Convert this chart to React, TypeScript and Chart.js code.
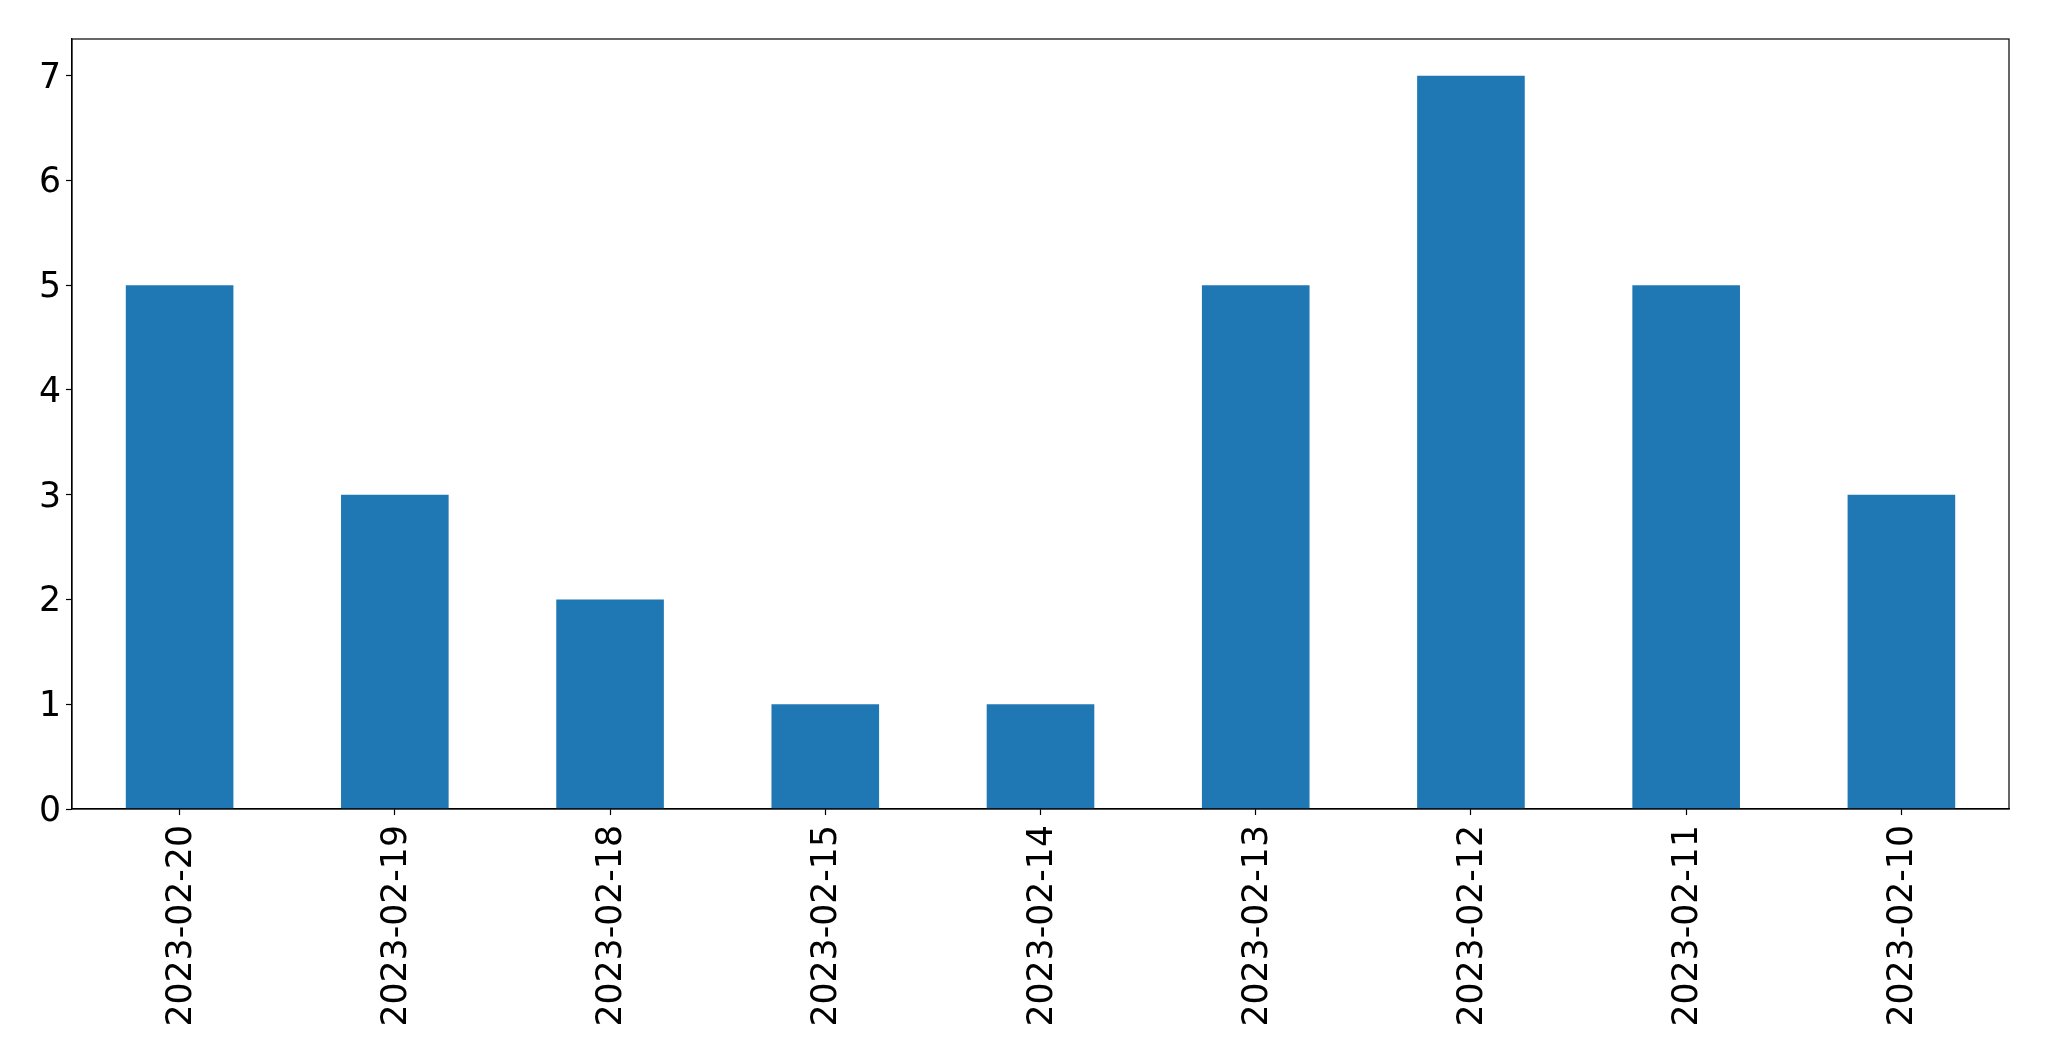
import React, { useEffect, useRef } from "react";
import { Chart, registerables } from "chart.js";

Chart.register(...registerables);

const categories = [
  "2023-02-20",
  "2023-02-19",
  "2023-02-18",
  "2023-02-15",
  "2023-02-14",
  "2023-02-13",
  "2023-02-12",
  "2023-02-11",
  "2023-02-10",
];
const counts = [5, 3, 2, 1, 1, 5, 7, 5, 3];
const yTicks = [0, 1, 2, 3, 4, 5, 6, 7];

const W = 2049;
const H = 1061;

const framePlugin = {
  id: "frame",
  afterDraw(chart: any) {
    const { ctx, chartArea } = chart;
    ctx.save();
    ctx.strokeStyle = "#000";
    ctx.lineWidth = 1.2;
    ctx.strokeRect(chartArea.left, chartArea.top, chartArea.right - chartArea.left, chartArea.bottom - chartArea.top);
    ctx.restore();
  },
};

export default function App() {
  const ref = useRef<HTMLCanvasElement | null>(null);
  useEffect(() => {
    if (!ref.current) return;
    const font = { family: "'DejaVu Sans', sans-serif", size: 34.7 };
    const chart = new Chart(ref.current, {
      type: "bar",
      data: {
        labels: categories,
        datasets: [
          {
            data: counts,
            backgroundColor: "#1f77b4",
            borderWidth: 0,
            barPercentage: 0.5,
            categoryPercentage: 1.0,
          },
        ],
      },
      options: {
        animation: false,
        responsive: false,
        maintainAspectRatio: false,
        devicePixelRatio: 1,
        layout: { padding: { top: 39, right: 40, left: 0, bottom: 0 } },
        plugins: { legend: { display: false }, tooltip: { enabled: false } },
        scales: {
          x: {
            type: "category",
            offset: true,
            grid: { display: true, drawOnChartArea: false, drawTicks: true, tickLength: 6, tickColor: "#000", tickWidth: 1.2, offset: false },
            border: { display: true, color: "#000", width: 1.2 },
            ticks: { font, color: "#000", maxRotation: 90, minRotation: 90, padding: 10, autoSkip: false, labelOffset: 2 },
            afterFit(scale: any) {
              scale.height = H - 809;
            },
          },
          y: {
            min: 0,
            max: 7.35,
            grid: { display: true, drawOnChartArea: false, drawTicks: true, tickLength: 6, tickColor: "#000", tickWidth: 1.2 },
            border: { display: true, color: "#000", width: 1.2 },
            ticks: { font, color: "#000", stepSize: 1, padding: 5, labelOffset: 3 },
            afterBuildTicks(scale: any) {
              scale.ticks = yTicks.map((v) => ({ value: v }));
            },
            afterFit(scale: any) {
              scale.width = 72;
            },
          },
        },
      },
      plugins: [framePlugin],
    });
    return () => chart.destroy();
  }, []);
  return (
    <div style={{ position: "fixed", left: 0, top: 0, width: W, height: H, background: "#fff" }}>
      <canvas ref={ref} width={W} height={H} style={{ width: W, height: H, display: "block" }} />
    </div>
  );
}
